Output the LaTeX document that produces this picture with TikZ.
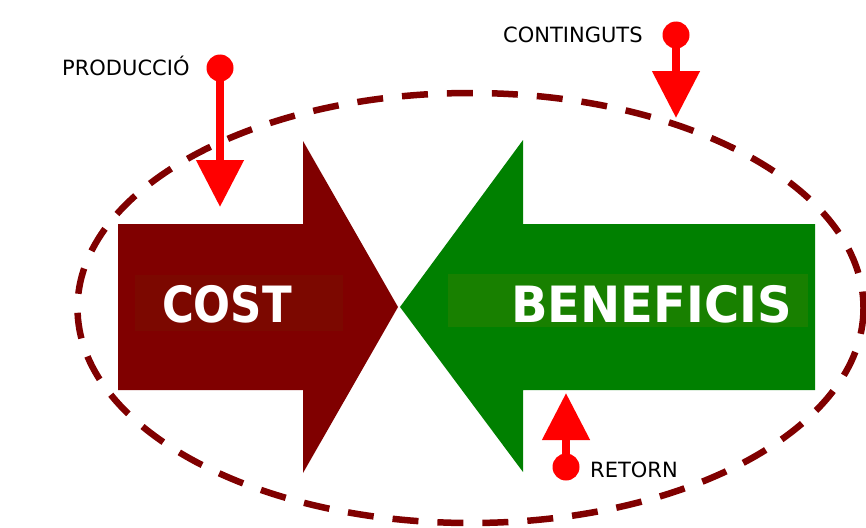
\documentclass[tikz,border=0pt]{standalone}
\usepackage{fontspec}
\setmainfont{DejaVu Sans}
\usetikzlibrary{arrows.meta}
\definecolor{maroon}{RGB}{128,0,0}
\definecolor{maroonpatch}{RGB}{124,8,0}
\definecolor{darkgreen}{RGB}{0,128,0}
\definecolor{greenpatch}{RGB}{24,128,0}
\definecolor{pinred}{RGB}{255,0,0}
\tikzset{
  pin/.style={circle, fill=pinred, inner sep=0pt, minimum size=27pt},
  pinarrow/.style={draw=pinred, line width=8pt, -{Triangle[width=46pt,length=47pt]}},
  lbl/.style={anchor=base west, inner sep=0pt, font=\fontsize{21}{25}\selectfont},
  bigtxt/.style={anchor=base, inner sep=0pt, text=white, font=\bfseries\fontsize{50}{60}\selectfont},
  ring/.style={draw=maroon, line width=6.5pt, dash pattern=on 26pt off 19pt}
}
\begin{document}
\begin{tikzpicture}[x=1pt,y=-1pt]
\useasboundingbox (0,0) rectangle (866,527);
% dashed ellipse
\draw[ring] (470.5,308) ellipse [x radius=393, y radius=215];
% COST arrow
\fill[maroon] (118,224) -- (303,224) -- (303,141) -- (398,307) -- (303,473) -- (303,390) -- (118,390) -- cycle;
\fill[maroonpatch] (135,275) rectangle (343,331);
\node[bigtxt] (cost) at (227,322) {\scalebox{0.87}[1]{COST}};
% BENEFICIS arrow
\fill[darkgreen] (815,224) -- (523,224) -- (523,140) -- (400,307) -- (523,472) -- (523,390) -- (815,390) -- cycle;
\fill[greenpatch] (448,274) rectangle (808,327);
\node[bigtxt] (ben) at (651.5,322) {\scalebox{0.96}[1]{BENEFICIS}};
% pins
\node[pin] (p1) at (220,68) {};
\coordinate (t1) at (220,207);
\draw[pinarrow] (p1.center) -- (t1);
\node[lbl] (l1) at (62,75) {PRODUCCIÓ};
\node[pin] (p2) at (676,35) {};
\coordinate (t2) at (676,118);
\draw[pinarrow] (p2.center) -- (t2);
\node[lbl] (l2) at (503,42) {CONTINGUTS};
\node[pin] (p3) at (566,467) {};
\coordinate (t3) at (566,393);
\draw[pinarrow] (p3.center) -- (t3);
\node[lbl] (l3) at (590,477) {RETORN};
\end{tikzpicture}
\end{document}
